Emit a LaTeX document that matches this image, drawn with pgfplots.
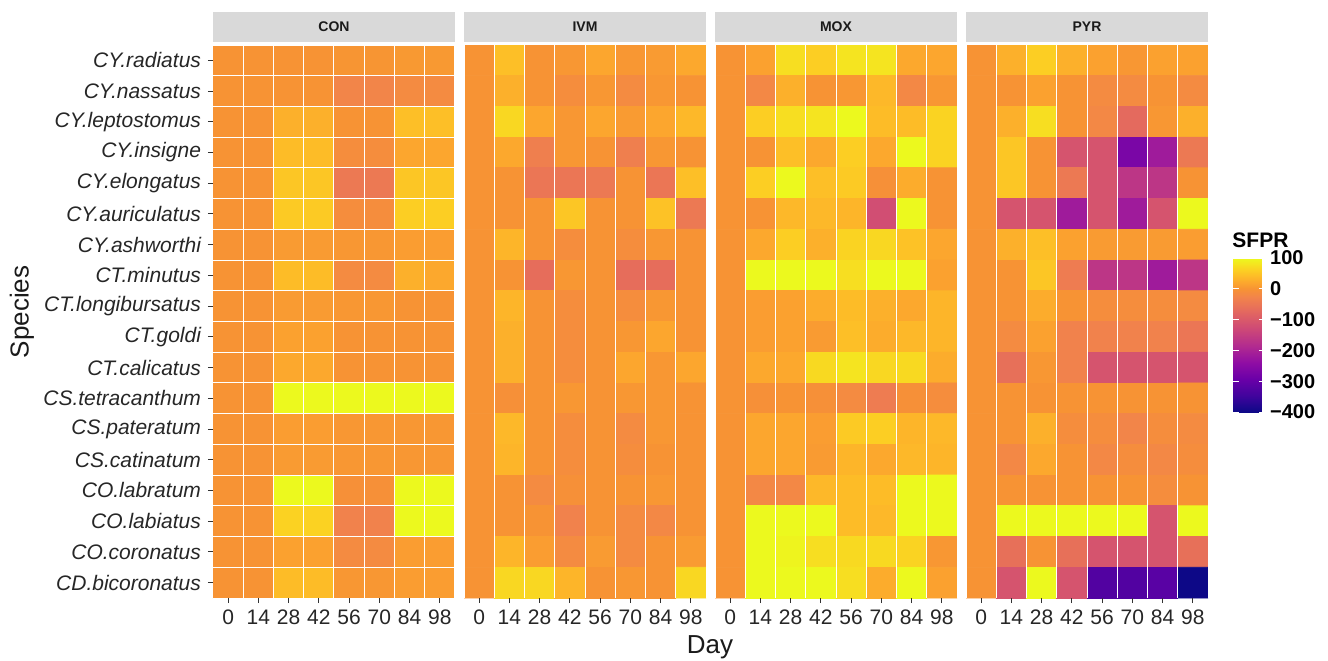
\documentclass[border=0pt]{standalone}
\usepackage{fontspec}
\setmainfont{Liberation Sans}
\usepackage{pgfplots}
\usepackage{pgfplotstable}
\pgfplotsset{compat=1.18}

\definecolor{stripgray}{HTML}{D9D9D9}
\definecolor{panelgray}{HTML}{EBEBEB}
\definecolor{txt}{HTML}{1A1A1A}

% plasma, stretched so that 0 sits on the orange (ggplot gradient)
\pgfplotsset{colormap={plasmaS}{
  rgb255(0pt)=(13,8,135) rgb255(53pt)=(65,4,157) rgb255(107pt)=(106,0,168)
  rgb255(160pt)=(143,13,164) rgb255(213pt)=(177,42,144) rgb255(267pt)=(204,71,120)
  rgb255(320pt)=(225,100,98) rgb255(373pt)=(242,132,75) rgb255(400pt)=(247,147,52)
  rgb255(420pt)=(252,166,46) rgb255(440pt)=(253,186,40) rgb255(460pt)=(252,206,35)
  rgb255(480pt)=(245,228,32) rgb255(500pt)=(236,249,30)}}

% one value per cell, 8 days per species row, species top to bottom
\pgfplotstableread[row sep=\\]{
v\\
0\\0\\0\\0\\2\\2\\6\\6\\
0\\0\\0\\0\\-25\\-25\\-15\\-15\\
0\\0\\30\\30\\0\\0\\45\\45\\
0\\0\\42\\42\\-10\\-10\\20\\20\\
0\\0\\52\\52\\-45\\-45\\52\\52\\
0\\0\\56\\56\\-10\\-10\\60\\60\\
0\\0\\8\\8\\4\\4\\11\\11\\
0\\0\\42\\42\\-15\\-15\\30\\22\\
0\\0\\8\\8\\4\\4\\0\\0\\
0\\0\\15\\15\\0\\0\\0\\0\\
0\\0\\22\\22\\0\\0\\0\\0\\
0\\0\\100\\100\\100\\100\\100\\100\\
0\\0\\11\\11\\4\\4\\4\\4\\
0\\0\\8\\8\\4\\4\\4\\4\\
0\\0\\100\\100\\-5\\-5\\100\\100\\
0\\0\\64\\64\\-30\\-30\\100\\100\\
0\\0\\15\\15\\-15\\-15\\11\\11\\
0\\0\\42\\42\\4\\4\\11\\11\\
}\tabCON

\pgfplotstableread[row sep=\\]{
v\\
0\\45\\0\\4\\20\\4\\8\\22\\
0\\30\\0\\-10\\4\\-15\\4\\0\\
0\\68\\20\\4\\20\\8\\20\\38\\
0\\22\\-35\\4\\0\\-35\\4\\0\\
0\\0\\-50\\-50\\-45\\0\\-50\\45\\
0\\0\\0\\52\\0\\0\\48\\-45\\
0\\35\\0\\-10\\0\\-10\\4\\0\\
0\\0\\-65\\4\\0\\-65\\-65\\0\\
0\\35\\0\\-10\\0\\-10\\4\\0\\
0\\30\\0\\-10\\0\\4\\20\\0\\
0\\30\\0\\-10\\0\\20\\4\\20\\
0\\-5\\0\\4\\0\\4\\4\\0\\
0\\38\\0\\-10\\0\\-15\\4\\0\\
0\\35\\0\\-10\\0\\-10\\0\\0\\
0\\0\\-15\\-5\\0\\0\\4\\0\\
0\\0\\0\\-30\\0\\-15\\-20\\0\\
0\\35\\11\\-15\\8\\-15\\0\\8\\
0\\68\\68\\35\\0\\4\\0\\68\\
}\tabIVM

\pgfplotstableread[row sep=\\]{
v\\
0\\15\\75\\60\\80\\80\\22\\20\\
0\\-20\\30\\0\\4\\38\\-20\\4\\
0\\60\\75\\80\\100\\42\\42\\65\\
0\\0\\45\\22\\60\\22\\100\\65\\
0\\60\\100\\45\\56\\-5\\26\\0\\
0\\0\\38\\38\\35\\-120\\100\\0\\
0\\22\\60\\30\\65\\68\\48\\20\\
0\\100\\100\\100\\75\\100\\100\\15\\
0\\11\\15\\26\\42\\30\\22\\35\\
0\\11\\15\\8\\45\\26\\38\\35\\
0\\22\\22\\70\\80\\68\\70\\26\\
0\\-5\\0\\-5\\-15\\-40\\-5\\-10\\
0\\20\\20\\11\\56\\60\\35\\38\\
0\\20\\20\\8\\35\\22\\38\\35\\
0\\-20\\-20\\38\\42\\42\\100\\100\\
0\\100\\100\\100\\42\\38\\100\\100\\
0\\100\\95\\75\\70\\70\\65\\4\\
0\\100\\100\\100\\75\\26\\100\\15\\
}\tabMOX

\pgfplotstableread[row sep=\\]{
v\\
0\\30\\60\\30\\15\\4\\15\\15\\
0\\0\\15\\0\\-15\\-15\\0\\-15\\
0\\30\\75\\0\\-20\\-70\\4\\30\\
0\\52\\0\\-110\\-110\\-270\\-215\\-45\\
0\\52\\0\\-45\\-110\\-165\\-165\\0\\
0\\-110\\-110\\-215\\-110\\-215\\-110\\100\\
0\\30\\45\\15\\8\\8\\8\\11\\
0\\0\\52\\-40\\-165\\-165\\-215\\-165\\
0\\0\\26\\0\\-10\\-10\\-10\\-15\\
0\\-15\\15\\-30\\-30\\-30\\-30\\-50\\
0\\-60\\4\\-30\\-110\\-110\\-110\\-110\\
0\\0\\0\\0\\0\\0\\0\\0\\
0\\0\\30\\-10\\-10\\-25\\-10\\-15\\
0\\-20\\22\\0\\-20\\-10\\-20\\-10\\
0\\0\\0\\0\\0\\0\\-10\\0\\
0\\100\\100\\100\\100\\100\\-110\\100\\
0\\-60\\0\\-60\\-110\\-110\\-110\\-60\\
0\\-110\\100\\-110\\-325\\-325\\-315\\-400\\
}\tabPYR

\pgfplotsset{
  panel/.style={
    anchor=south west, width=121pt, height=276.5pt, scale only axis,
    xmin=-0.5, xmax=7.5, ymin=-0.5, ymax=17.5, y dir=reverse,
    colormap name=plasmaS, point meta min=-400, point meta max=100,
    xtick={0,...,7}, xticklabels={0,14,28,42,56,70,84,98},
    minor xtick={-0.5,0.5,...,7.5}, minor ytick={-0.5,0.5,...,17.5},
    xminorgrids, yminorgrids, minor grid style={white, line width=0.5pt},
    axis on top, minor tick length=0pt, major tick length=2.5pt,
    tick align=outside, tick pos=left,
    tick style={color=black!80, line width=0.5pt},
    axis line style={draw=none},
    axis background/.style={fill=panelgray},
    ticklabel style={font=\fontsize{10.5}{12}\selectfont, text=black!85},
  },
  cells/.style={matrix plot*, mesh/cols=8, point meta=explicit},
  table/cellpos/.style={x index=0, y index=0,
    x expr={\coordindex-8*floor((\coordindex+0.5)/8)},
    y expr={floor((\coordindex+0.5)/8)}, meta=v},
}

\newcommand{\strip}[2]{%
  \fill[stripgray] ([yshift=1.5pt]#1.north west) rectangle ([yshift=16.5pt]#1.north east);
  \node[font=\bfseries\fontsize{7}{8}\selectfont, text=txt] at ([yshift=9pt]#1.north) {#2};
}

\begin{document}
\begin{tikzpicture}
\useasboundingbox (0,0) rectangle (664pt,330pt);

\begin{axis}[panel, name=con, at={(106.5pt,31pt)},
  ytick={0,...,17},
  yticklabels={CY.radiatus,CY.nassatus,CY.leptostomus,CY.insigne,CY.elongatus,
    CY.auriculatus,CY.ashworthi,CT.minutus,CT.longibursatus,CT.goldi,CT.calicatus,
    CS.tetracanthum,CS.pateratum,CS.catinatum,CO.labratum,CO.labiatus,
    CO.coronatus,CD.bicoronatus},
  yticklabel style={font=\itshape\fontsize{10.5}{12}\selectfont}]
\addplot[cells] table[cellpos] {\tabCON};
\end{axis}

\begin{axis}[panel, name=ivm, at={(232pt,31pt)}, ytick=\empty]
\addplot[cells] table[cellpos] {\tabIVM};
\end{axis}

\begin{axis}[panel, name=mox, at={(357.5pt,31pt)}, ytick=\empty]
\addplot[cells] table[cellpos] {\tabMOX};
\end{axis}

\begin{axis}[panel, name=pyr, at={(483pt,31pt)}, ytick=\empty,
  colorbar,
  colorbar style={
    at={(parent axis.south east)}, anchor=south west,
    xshift=4pt, yshift=93pt,
    width=16pt, height=77pt, scale only axis,
    axis line style={draw=none},
    ytick={-400,-300,-200,-100,0,100},
    yticklabels={−400,−300,−200,−100,0,100},
    ytick pos=both, yticklabel pos=right,
    tick align=inside, major tick length=3pt,
    tick style={white, line width=0.5pt},
    yticklabel style={font=\bfseries\fontsize{10}{12}\selectfont, text=black, xshift=-1pt},
  }]
\addplot[cells] table[cellpos] {\tabPYR};
\end{axis}

\strip{con}{CON}
\strip{ivm}{IVM}
\strip{mox}{MOX}
\strip{pyr}{PYR}

\node[anchor=south west, font=\bfseries\fontsize{10.5}{12}\selectfont, inner sep=0pt] at (616pt,206pt) {SFPR};
\node[font=\fontsize{13}{15}\selectfont, text=txt, anchor=base] at (355pt,3.5pt) {Day};
\node[font=\fontsize{13}{15}\selectfont, text=txt, rotate=90] at (11pt,174pt) {Species};
\end{tikzpicture}
\end{document}
